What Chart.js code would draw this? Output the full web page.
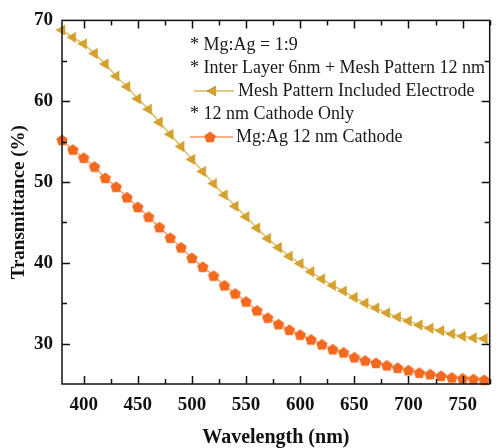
<!DOCTYPE html>
<html lang="en">
<head>
    <meta charset="UTF-8">
    <title>Transmittance</title>
    <script src="https://cdn.jsdelivr.net/npm/chart.js"></script>
    <style>
        body { margin: 0; background: #fff; }
    </style>
</head>
<body>
    <canvas id="transChart" width="497" height="448"></canvas>

    <script>
        // wavelength (nm), 10 nm steps
        const wavelengths = [380, 390, 400, 410, 420, 430, 440, 450, 460, 470,
                             480, 490, 500, 510, 520, 530, 540, 550, 560, 570,
                             580, 590, 600, 610, 620, 630, 640, 650, 660, 670,
                             680, 690, 700, 710, 720, 730, 740, 750, 760, 770];
        // mesh pattern included electrode
        const meshValues = [68.8, 67.9, 67.1, 65.9, 64.6, 63.1, 61.8, 60.3, 59.0, 57.4,
                            55.9, 54.4, 52.8, 51.3, 49.8, 48.4, 47.0, 45.7, 44.3, 43.0,
                            41.9, 40.8, 39.9, 38.9, 38.0, 37.2, 36.5, 35.7, 35.0, 34.4,
                            33.8, 33.3, 32.8, 32.3, 31.9, 31.6, 31.2, 30.9, 30.7, 30.6];
        // Mg:Ag 12 nm cathode only
        const cathodeValues = [55.2, 54.0, 53.0, 51.9, 50.5, 49.4, 48.1, 46.9, 45.7, 44.4,
                               43.1, 41.9, 40.6, 39.5, 38.4, 37.2, 36.2, 35.2, 34.1, 33.2,
                               32.4, 31.7, 31.1, 30.5, 29.9, 29.3, 28.9, 28.3, 27.9, 27.6,
                               27.3, 27.0, 26.7, 26.4, 26.2, 26.0, 25.8, 25.7, 25.6, 25.5];
        const xTicks = [400, 450, 500, 550, 600, 650, 700, 750];
        const yTicks = [30, 40, 50, 60, 70];
        const noteLines = ['* Mg:Ag = 1:9', '* Inter Layer 6nm + Mesh Pattern 12 nm', '* 12 nm Cathode Only'];
        const seriesNames = ['Mesh Pattern Included Electrode', 'Mg:Ag 12 nm Cathode'];

        const GOLD = '#d4a12c';
        const ORANGE = '#f2691f';
        const SERIF = '"Liberation Serif", "Times New Roman", serif';

        // no pentagon point style in chart.js, so make one
        function makePentagon(r, color) {
            const c = document.createElement('canvas');
            c.width = c.height = Math.ceil(r * 2 + 2);
            const g = c.getContext('2d');
            const cx = c.width / 2, cy = c.height / 2 + 0.5;
            g.beginPath();
            for (let i = 0; i < 5; i++) {
                const a = -Math.PI / 2 + i * 2 * Math.PI / 5;
                const px = cx + r * Math.cos(a), py = cy + r * Math.sin(a);
                i ? g.lineTo(px, py) : g.moveTo(px, py);
            }
            g.closePath();
            g.fillStyle = color;
            g.fill();
            return c;
        }
        const pentagon = makePentagon(6, ORANGE);

        // ticks point inwards on all four sides, so draw them here
        const frameTicks = {
            id: 'frameTicks',
            afterDraw(chart) {
                const {ctx, chartArea: a, scales: {x, y}} = chart;
                ctx.save();
                ctx.strokeStyle = '#111';
                ctx.lineWidth = 1.5;
                ctx.strokeRect(a.left, a.top, a.right - a.left, a.bottom - a.top);
                ctx.beginPath();
                for (let v = 400; v <= 775; v += 25) {
                    const px = Math.round(x.getPixelForValue(v)) + 0.5;
                    const len = v % 50 === 0 ? 8 : 5;
                    ctx.moveTo(px, a.bottom); ctx.lineTo(px, a.bottom - len);
                    ctx.moveTo(px, a.top); ctx.lineTo(px, a.top + len);
                }
                for (let v = 30; v <= 65; v += 5) {
                    const py = Math.round(y.getPixelForValue(v)) + 0.5;
                    const len = v % 10 === 0 ? 8 : 5;
                    ctx.moveTo(a.left, py); ctx.lineTo(a.left + len, py);
                    ctx.moveTo(a.right, py); ctx.lineTo(a.right - len, py);
                }
                ctx.stroke();
                ctx.restore();
            }
        };

        // notes + legend inside the plot
        const notes = {
            id: 'notes',
            afterDraw(chart) {
                const ctx = chart.ctx;
                const ds = chart.data.datasets;
                ctx.save();
                ctx.font = '18px ' + SERIF;
                ctx.fillStyle = '#1a1a1a';
                ctx.textBaseline = 'middle';
                ctx.fillText(noteLines[0], 190, 45);
                ctx.fillText(noteLines[1], 190, 68);
                ctx.fillText(noteLines[2], 190, 114);
                ctx.fillText(seriesNames[0], 238, 91);
                ctx.fillText(seriesNames[1], 236, 137);

                const rows = [[ds[0], 194, 234, 91, 213], [ds[1], 190, 233, 137, 210]];
                rows.forEach(([d, x0, x1, yy, xm]) => {
                    ctx.strokeStyle = d.borderColor;
                    ctx.lineWidth = 1.5;
                    ctx.beginPath();
                    ctx.moveTo(x0, yy); ctx.lineTo(x1, yy);
                    ctx.stroke();
                    Chart.helpers.drawPoint(ctx, {
                        pointStyle: d.pointStyle,
                        radius: d.pointRadius,
                        rotation: d.pointRotation || 0,
                        borderWidth: 0
                    }, xm, yy);
                    ctx.fillStyle = d.pointBackgroundColor;
                    if (d.pointStyle === 'triangle') ctx.fill();
                });
                ctx.restore();
            }
        };

        new Chart(document.getElementById('transChart').getContext('2d'), {
            type: 'line',
            data: {
                labels: wavelengths,
                datasets: [{
                    label: seriesNames[0],
                    data: wavelengths.map((w, i) => ({x: w, y: meshValues[i]})),
                    borderColor: '#dcb65a',
                    borderWidth: 1.3,
                    pointStyle: 'triangle',
                    pointRotation: -90,
                    pointRadius: 6,
                    pointBackgroundColor: GOLD,
                    pointBorderColor: GOLD,
                    pointBorderWidth: 0.5
                }, {
                    label: seriesNames[1],
                    data: wavelengths.map((w, i) => ({x: w, y: cathodeValues[i]})),
                    borderColor: '#f5935c',
                    borderWidth: 1.3,
                    pointStyle: pentagon,
                    pointRadius: 6,
                    pointBackgroundColor: ORANGE,
                    pointBorderColor: ORANGE
                }]
            },
            options: {
                responsive: false,
                animation: false,
                clip: false,
                layout: { padding: { top: 18, right: 2, left: 0, bottom: 0 } },
                plugins: { legend: { display: false }, tooltip: { enabled: false } },
                scales: {
                    x: {
                        type: 'linear',
                        min: 380,
                        max: 775,
                        afterFit: s => { s.height = 64; },
                        afterBuildTicks: s => { s.ticks = xTicks.map(v => ({value: v})); },
                        grid: { display: false, drawTicks: false },
                        border: { display: false },
                        ticks: {
                            padding: 10,
                            color: '#111',
                            font: { family: SERIF, size: 19, weight: 'bold' },
                            maxRotation: 0
                        },
                        title: {
                            display: true,
                            text: 'Wavelength (nm)',
                            color: '#111',
                            font: { family: SERIF, size: 20, weight: 'bold' },
                            padding: { top: 0, bottom: -2 }
                        }
                    },
                    y: {
                        min: 25,
                        max: 70,
                        afterFit: s => { s.width = 62; },
                        afterBuildTicks: s => { s.ticks = yTicks.map(v => ({value: v})); },
                        grid: { display: false, drawTicks: false },
                        border: { display: false },
                        ticks: {
                            padding: 9,
                            color: '#111',
                            font: { family: SERIF, size: 19, weight: 'bold' }
                        },
                        title: {
                            display: true,
                            text: 'Transmittance (%)',
                            color: '#111',
                            font: { family: SERIF, size: 19, weight: 'bold' },
                            padding: { top: 8, bottom: 0 }
                        }
                    }
                }
            },
            plugins: [frameTicks, notes]
        });
    </script>
</body>
</html>
